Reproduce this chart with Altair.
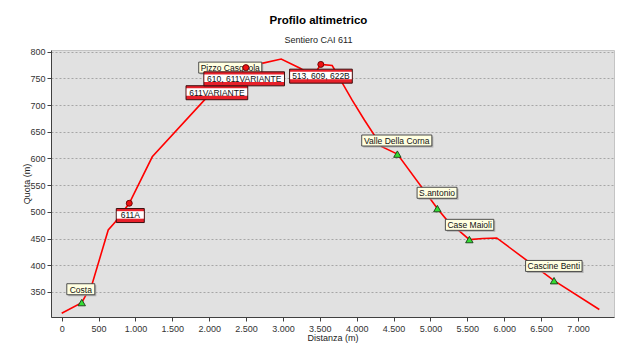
import altair as alt
import pandas as pd

# ---- profile (distance m, elevation m) ----
dist = [0, 272, 415, 631, 726, 916, 1228, 1946, 2176, 2497, 2714, 2976, 3233, 3409,
        3513, 3667, 3696, 3938, 4104, 4340, 4551, 5093, 5225, 5527, 5709, 5898, 6675, 7289]
elev = [310, 330, 366, 466, 481, 516, 603, 711, 741, 770, 778, 786, 769, 754,
        776, 774, 767, 709, 672, 622, 608, 506, 484, 448, 450, 451, 371, 317]

# ---- named places (green triangles) ----
place_dist = [272, 4551, 5093, 5527, 6675]
place_elev = [330, 608, 506, 448, 371]

# ---- trail junctions (red dots) ----
junction_dist = [916, 2176, 2497, 3513]
junction_elev = [516, 741, 770, 776]

# ---- place labels (beige) ----
place_label_text = ["Costa", "Pizzo Casgnola", "Valle Della Corna", "S.antonio",
                    "Case Maioli", "Cascine Benti"]
place_label_dist = [259, 2285, 4543, 5089, 5530, 6672]
place_label_elev = [355, 770, 633.5, 535.6, 475.6, 398.6]

# ---- junction labels (striped) ----
junction_label_text = ["611A", "611VARIANTE", "610, 611VARIANTE", "513, 609, 622B"]
junction_label_dist = [930, 2104, 2474, 3515]
junction_label_elev = [493, 723, 749, 754]

x_ticks = list(range(0, 7001, 500))
y_ticks = list(range(350, 801, 50))

FONT = "Liberation Sans"
LABEL_FS = 8.5

# approximate Arial advance widths (per 1000 em)
W = {"C": 722, "o": 556, "s": 500, "t": 278, "a": 556, "P": 667, "i": 222, "z": 500,
     "g": 556, "n": 556, "l": 222, "V": 667, "e": 556, "D": 722, "r": 333, "S": 667,
     ".": 278, "M": 833, "B": 667, "A": 667, ",": 278, " ": 278, "R": 722, "I": 278,
     "N": 722, "T": 611, "E": 667, "c": 500}


def text_w(s):
    return sum(W.get(ch, 556) for ch in s) * LABEL_FS / 1000.0


def box(w, h, dx=0.0, dy=0.0):
    return (f"M{-w/2+dx:.2f},{-h/2+dy:.2f}H{w/2+dx:.2f}V{h/2+dy:.2f}"
            f"H{-w/2+dx:.2f}Z")


line_df = pd.DataFrame({"d": dist, "e": elev})
place_df = pd.DataFrame({"d": place_dist, "e": place_elev})
junc_df = pd.DataFrame({"d": junction_dist, "e": junction_elev})

pl_w = [max(text_w(t) + 4, 28) for t in place_label_text]
pl_df = pd.DataFrame({
    "d": place_label_dist, "e": place_label_elev, "t": place_label_text,
    "shadow": [box(w, 11, 1.5, 1.5) for w in pl_w],
    "frame": [box(w, 11) for w in pl_w],
})
jl_w = [max(text_w(t) + 5, 28) for t in junction_label_text]
jl_df = pd.DataFrame({
    "d": junction_label_dist, "e": junction_label_elev, "t": junction_label_text,
    "outer": [box(w, 14) for w in jl_w],
    "inner": [box(w - 1, 7.5, 0, -0.6) for w in jl_w],
})

xs = alt.Scale(domain=[-145, 7488], nice=False, zero=False)
ys = alt.Scale(domain=[303, 803], nice=False, zero=False)

xaxis = alt.Axis(values=x_ticks, labelExpr="replace(format(datum.value, ',d'), ',', '.')",
                 title="Distanza (m)", grid=False, tickSize=4, labelFontSize=9,
                 titleFontSize=9, titleFontWeight="normal", labelColor="#333333",
                 titleColor="#222222", domainColor="#404040", tickColor="#404040",
                 labelPadding=3, titlePadding=0, labelFlush=False, labelFont=FONT,
                 titleFont=FONT)
yaxis = alt.Axis(values=y_ticks, title="Quota (m)", grid=True, gridDash=[2, 2],
                 gridColor="#a6a6a6", tickSize=4, labelFontSize=9, titleFontSize=9,
                 titleFontWeight="normal", labelColor="#333333", titleColor="#222222",
                 domainColor="#404040", tickColor="#404040", labelPadding=2,
                 titlePadding=-2, labelFlush=False, labelFont=FONT, titleFont=FONT)

X = alt.X("d:Q", scale=xs, axis=xaxis)
Y = alt.Y("e:Q", scale=ys, axis=yaxis)

line = alt.Chart(line_df).mark_line(color="#ff0000", strokeWidth=1.6).encode(x=X, y=Y)

pl_shadow = alt.Chart(pl_df).mark_point(filled=True, size=4, opacity=1, fill="#9a9a9a",
                                        fillOpacity=0.7).encode(
    x=X, y=Y, shape=alt.Shape("shadow:N", scale=None, legend=None))
pl_box = alt.Chart(pl_df).mark_point(filled=True, size=4, opacity=1, fill="#ffffe1",
                                     stroke="#3c3c3c", strokeWidth=0.9).encode(
    x=X, y=Y, shape=alt.Shape("frame:N", scale=None, legend=None))
pl_text = alt.Chart(pl_df).mark_text(font=FONT, fontSize=LABEL_FS, color="#111111",
                                     baseline="middle", align="center", dy=0.5).encode(
    x=X, y=Y, text="t:N")

tri = alt.Chart(place_df).mark_point(shape="triangle-up", filled=True, size=55, opacity=1,
                                     fill="#33dd33", stroke="#1a3a1a",
                                     strokeWidth=0.9).encode(x=X, y=Y)
dots = alt.Chart(junc_df).mark_point(shape="circle", filled=True, size=36, opacity=1,
                                     fill="#ee1111", stroke="#600000",
                                     strokeWidth=0.9).encode(x=X, y=Y)

jl_outer = alt.Chart(jl_df).mark_point(filled=True, size=4, opacity=1, fill="#e8202a",
                                       stroke="#3a1010", strokeWidth=1).encode(
    x=X, y=Y, shape=alt.Shape("outer:N", scale=None, legend=None))
jl_inner = alt.Chart(jl_df).mark_point(filled=True, size=4, opacity=1,
                                       fill="#ffffff").encode(
    x=X, y=Y, shape=alt.Shape("inner:N", scale=None, legend=None))
jl_text = alt.Chart(jl_df).mark_text(font=FONT, fontSize=LABEL_FS, color="#111111",
                                     baseline="middle", align="center", dy=-0.2).encode(
    x=X, y=Y, text="t:N")

chart = alt.layer(
    line, pl_shadow, pl_box, pl_text, tri, dots, jl_outer, jl_inner, jl_text
).properties(
    width=563, height=267,
    title=alt.TitleParams("Profilo altimetrico", subtitle="Sentiero CAI 611",
                          font=FONT, fontSize=11.5, fontWeight="bold", color="#000000",
                          subtitleFont=FONT, subtitleFontSize=9,
                          subtitleColor="#222222", anchor="middle", frame="bounds",
                          offset=3, subtitlePadding=9),
    autosize=alt.AutoSizeParams(type="none"),
    padding={"left": 43, "top": 42, "right": 18, "bottom": 32},
    background="#ffffff",
).configure_view(fill="#e1e1e1", stroke="#c4c4c4")

chart.save("out.html", embed_options={"renderer": "svg", "actions": False})
